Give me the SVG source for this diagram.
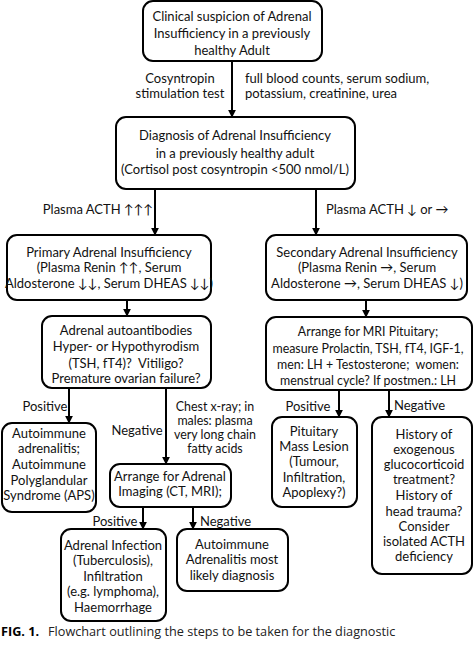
<svg xmlns="http://www.w3.org/2000/svg" width="474" height="645" viewBox="0 0 474 645">
<defs>
<marker id="ah" viewBox="0 0 10 10" refX="9" refY="5" markerWidth="4" markerHeight="4" orient="auto" markerUnits="strokeWidth">
<path d="M0,0 L10,5 L0,10 z" fill="#000"/>
</marker>
</defs>
<style>
.box{fill:#fff;stroke:#000;stroke-width:2}
text{font-family:Lato,"Open Sans",sans-serif;font-size:13px;fill:#111}
.c{text-anchor:middle}
.e{text-anchor:end}
.n{font-size:12.4px}
.con{stroke:#000;stroke-width:2;fill:none;marker-end:url(#ah)}
.cap{font-family:"Open Sans",sans-serif;font-size:12.7px;fill:#222}
</style>
<rect width="474" height="645" fill="#fff"/>
<g id="connectors">
<line class="con" x1="232" y1="61" x2="232" y2="117"/>
<line class="con" x1="155" y1="189" x2="155" y2="235"/>
<line class="con" x1="316" y1="189" x2="316" y2="235"/>
<line class="con" x1="127" y1="300" x2="127" y2="316"/>
<line class="con" x1="366" y1="300" x2="366" y2="317"/>
<line class="con" x1="339" y1="390" x2="339" y2="417"/>
<line class="con" x1="389" y1="390" x2="389" y2="417"/>
<line class="con" x1="69" y1="388" x2="69" y2="423"/>
<line class="con" x1="166" y1="388" x2="166" y2="464"/>
<line class="con" x1="143" y1="507" x2="143" y2="529"/>
<line class="con" x1="193" y1="507" x2="193" y2="529"/>
<text class="c" x="180" y="83">Cosyntropin</text>
<text class="c" x="180" y="98">stimulation test</text>
<text x="245" y="83">full blood counts, serum sodium,</text>
<text x="245" y="98">potassium, creatinine, urea</text>
<text class="c" x="98" y="214">Plasma ACTH ↑↑↑</text>
<text x="326" y="214">Plasma ACTH ↓ or →</text>
<text class="c" x="308" y="411">Positive</text>
<text x="394" y="410">Negative</text>
<text class="c" x="45" y="411">Positive</text>
<text class="c" x="137" y="435">Negative</text>
<text class="c n" x="215" y="411">Chest x-ray; in</text>
<text class="c n" x="215" y="425">males: plasma</text>
<text class="c n" x="215" y="439">very long chain</text>
<text class="c n" x="215" y="453">fatty acids</text>
<text class="c" x="115" y="526">Positive</text>
<text x="200" y="526">Negative</text>
</g>
<g id="n1">
<rect class="box" x="143" y="1" width="179" height="60" rx="10"/>
<text class="c" x="232" y="20.5">Clinical suspicion of Adrenal</text>
<text class="c" x="232" y="37.5">Insufficiency in a previously</text>
<text class="c" x="232" y="54.5">healthy Adult</text>
</g>
<g id="n2">
<rect class="box" x="116" y="117" width="239" height="72" rx="10"/>
<text class="c" x="235" y="139.5">Diagnosis of Adrenal Insufficiency</text>
<text class="c" x="235" y="157.5">in a previously healthy adult</text>
<text class="c" x="235" y="173.5">(Cortisol post cosyntropin &lt;500 nmol/L)</text>
</g>
<g id="n3">
<rect class="box" x="7" y="235" width="204" height="65" rx="10"/>
<text class="c" x="109" y="256.5">Primary Adrenal Insufficiency</text>
<text class="c" x="109" y="271.5">(Plasma Renin ↑↑, Serum</text>
<text class="c" x="109" y="287.5">Aldosterone ↓↓, Serum DHEAS ↓↓)</text>
</g>
<g id="n4">
<rect class="box" x="42" y="316" width="169" height="72" rx="10"/>
<text class="c" x="126" y="334.5">Adrenal autoantibodies</text>
<text class="c" x="126" y="350.5">Hyper- or Hypothyrodism</text>
<text class="c" x="126" y="367.5">(TSH, fT4)?&#160; Vitiligo?</text>
<text class="c" x="126" y="382.5">Premature ovarian failure?</text>
</g>
<g id="n5">
<rect class="box" x="266" y="235" width="201" height="65" rx="10"/>
<text class="c" x="367" y="256.5">Secondary Adrenal Insufficiency</text>
<text class="c" x="367" y="271.5">(Plasma Renin →, Serum</text>
<text class="c" x="367" y="287.5">Aldosterone →, Serum DHEAS ↓)</text>
</g>
<g id="n6">
<rect class="box" x="266" y="317" width="206" height="73" rx="10"/>
<text class="c n" x="368" y="335.5">Arrange for MRI Pituitary;</text>
<text class="c n" x="368" y="352.5">measure Prolactin, TSH, fT4, IGF-1,</text>
<text class="c n" x="368" y="368.5">men: LH + Testosterone;&#160; women:</text>
<text class="c n" x="368" y="384.5">menstrual cycle? If postmen.: LH</text>
</g>
<g id="n7">
<rect class="box" x="272" y="417" width="85" height="90" rx="10"/>
<text class="c" x="314" y="435.5">Pituitary</text>
<text class="c" x="314" y="450.5">Mass Lesion</text>
<text class="c" x="314" y="465.5">(Tumour,</text>
<text class="c" x="314" y="481.5">Infiltration,</text>
<text class="c" x="314" y="496.5">Apoplexy?)</text>
</g>
<g id="n8">
<rect class="box" x="372" y="417" width="100" height="157" rx="10"/>
<text class="c" x="424" y="438.5">History of</text>
<text class="c" x="424" y="453.5">exogenous</text>
<text class="c" x="424" y="468.5">glucocorticoid</text>
<text class="c" x="424" y="483.5">treatment?</text>
<text class="c" x="424" y="499.5">History of</text>
<text class="c" x="424" y="516">head trauma?</text>
<text class="c" x="424" y="531">Consider</text>
<text class="c" x="424" y="546">isolated ACTH</text>
<text class="c" x="424" y="561">deficiency</text>
</g>
<g id="n9">
<rect class="box" x="2" y="423" width="94" height="89" rx="10"/>
<text class="c" x="49" y="437.5">Autoimmune</text>
<text class="c" x="49" y="452.5">adrenalitis;</text>
<text class="c" x="49" y="468.5">Autoimmune</text>
<text class="c" x="49" y="484.5">Polyglandular</text>
<text class="c" x="49" y="499.5">Syndrome (APS)</text>
</g>
<g id="n10">
<rect class="box" x="110" y="464" width="121" height="43" rx="10"/>
<text class="c" x="170" y="480.5">Arrange for Adrenal</text>
<text class="c" x="170" y="495.5">Imaging (CT, MRI);</text>
</g>
<g id="n11">
<rect class="box" x="61" y="529" width="105" height="92" rx="10"/>
<text class="c" x="113" y="549.5">Adrenal Infection</text>
<text class="c" x="113" y="565">(Tuberculosis),</text>
<text class="c" x="113" y="580.5">Infiltration</text>
<text class="c" x="113" y="596">(e.g. lymphoma),</text>
<text class="c" x="113" y="611.5">Haemorrhage</text>
</g>
<g id="n12">
<rect class="box" x="177" y="529" width="111" height="62" rx="10"/>
<text class="c" x="232" y="548.5">Autoimmune</text>
<text class="c" x="232" y="563.5">Adrenalitis most</text>
<text class="c" x="232" y="579.5">likely diagnosis</text>
</g>
<g id="caption">
<text class="cap" x="1" y="636"><tspan font-weight="bold" fill="#000">FIG. 1.</tspan><tspan x="48">Flowchart outlining the steps to be taken for the diagnostic</tspan></text>
</g>
</svg>
